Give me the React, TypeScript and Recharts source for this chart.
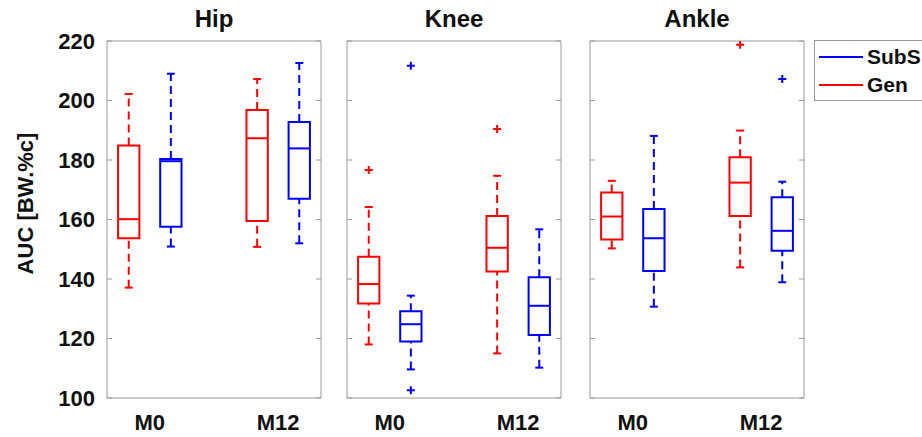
import React from "react";
import {
  ComposedChart,
  XAxis,
  YAxis,
  ReferenceArea,
  ReferenceLine,
  Scatter,
  Legend,
} from "recharts";

// categories / labels
const PANELS = ["Hip", "Knee", "Ankle"];
const TIMES = ["M0", "M12"];
const GROUPS = ["SubS", "Gen"];
const Y_TICKS = [100, 120, 140, 160, 180, 200, 220];

// [lower whisker, q1, median, q3, upper whisker] for M0, M12
const HIP_GEN = [
  [137.1, 153.7, 160.1, 184.9, 202.2],
  [150.8, 159.5, 187.3, 196.8, 207.2],
];
const HIP_SUBS = [
  [150.9, 157.6, 179.6, 180.3, 209.0],
  [152.0, 167.0, 183.9, 192.8, 212.6],
];
const KNEE_GEN = [
  [118.0, 131.8, 138.3, 147.5, 164.2],
  [115.0, 142.5, 150.5, 161.2, 174.7],
];
const KNEE_SUBS = [
  [109.6, 119.0, 124.8, 129.2, 134.4],
  [110.2, 121.2, 131.0, 140.6, 156.7],
];
const ANKLE_GEN = [
  [150.3, 153.3, 161.0, 169.1, 173.0],
  [143.9, 161.2, 172.4, 180.9, 189.9],
];
const ANKLE_SUBS = [
  [130.7, 142.7, 153.7, 163.5, 188.1],
  [138.9, 149.5, 156.2, 167.5, 172.7],
];

// outliers for M0, M12
const HIP_GEN_OUT = [[], []];
const HIP_SUBS_OUT = [[], []];
const KNEE_GEN_OUT = [[176.6], [190.4]];
const KNEE_SUBS_OUT = [[211.7, 102.6], []];
const ANKLE_GEN_OUT = [[], [218.7]];
const ANKLE_SUBS_OUT = [[], [207.2]];

const STATS: Record<string, Record<string, number[][]>> = {
  Hip: { Gen: HIP_GEN, SubS: HIP_SUBS },
  Knee: { Gen: KNEE_GEN, SubS: KNEE_SUBS },
  Ankle: { Gen: ANKLE_GEN, SubS: ANKLE_SUBS },
};
const OUTLIERS: Record<string, Record<string, number[][]>> = {
  Hip: { Gen: HIP_GEN_OUT, SubS: HIP_SUBS_OUT },
  Knee: { Gen: KNEE_GEN_OUT, SubS: KNEE_SUBS_OUT },
  Ankle: { Gen: ANKLE_GEN_OUT, SubS: ANKLE_SUBS_OUT },
};

// styling / layout
const COLORS: Record<string, string> = { SubS: "#0000ff", Gen: "#ff0000" };
const SHIFT: Record<string, number> = { Gen: -0.164, SubS: 0.164 };
const BOX_HALF = 0.083;
const CAP_HALF = 0.031;
const FRAME = "#9a9a9a";
const FONT = '"Liberation Sans", Arial, sans-serif';
const PLOT_W = 214;
const PANEL_LEFT = [0, 330, 570];
const AXIS_W = [107, 17, 20];
const RIGHT_M = [3, 3, 118];
const X_DOMAIN = [2 / 3, 7 / 3];

const ax = { xAxisId: "x", yAxisId: "y" };
const noLabel = () => <g />;

function boxElements(panel: string, group: string) {
  const color = COLORS[group];
  return STATS[panel][group].flatMap(([lo, q1, med, q3, hi], i) => {
    const x = i + 1 + SHIFT[group];
    const k = `${panel}-${group}-${i}`;
    return [
      <ReferenceLine key={k + "wl"} {...ax} segment={[{ x, y: lo }, { x, y: q1 }]}
        stroke={color} strokeWidth={2} strokeDasharray="8 5" />,
      <ReferenceLine key={k + "wh"} {...ax} segment={[{ x, y: q3 }, { x, y: hi }]}
        stroke={color} strokeWidth={2} strokeDasharray="8 5" />,
      <ReferenceLine key={k + "cl"} {...ax}
        segment={[{ x: x - CAP_HALF, y: lo }, { x: x + CAP_HALF, y: lo }]}
        stroke={color} strokeWidth={2} />,
      <ReferenceLine key={k + "ch"} {...ax}
        segment={[{ x: x - CAP_HALF, y: hi }, { x: x + CAP_HALF, y: hi }]}
        stroke={color} strokeWidth={2} />,
      <ReferenceArea key={k + "box"} {...ax} x1={x - BOX_HALF} x2={x + BOX_HALF}
        y1={q1} y2={q3} fill="#fff" fillOpacity={1} stroke={color} strokeWidth={2} />,
      <ReferenceLine key={k + "md"} {...ax}
        segment={[{ x: x - BOX_HALF, y: med }, { x: x + BOX_HALF, y: med }]}
        stroke={color} strokeWidth={2} />,
    ];
  });
}

function outlierPoints(panel: string, group: string) {
  return OUTLIERS[panel][group].flatMap((vals, i) =>
    vals.map((v) => ({ x: i + 1 + SHIFT[group], y: v }))
  );
}

const plusShape = (color: string) => (props: any) => {
  const { cx, cy } = props;
  return (
    <path
      d={`M${cx - 4},${cy}H${cx + 4}M${cx},${cy - 4}V${cy + 4}`}
      stroke={color}
      strokeWidth={2}
      fill="none"
    />
  );
};

const renderLegend = () => (
  <div
    style={{
      border: `1px solid ${FRAME}`,
      background: "#fff",
      width: 112,
      height: 61,
      boxSizing: "border-box",
      paddingTop: 2,
      fontFamily: FONT,
    }}
  >
    {GROUPS.map((g) => (
      <div key={g} style={{ display: "flex", alignItems: "center", height: 28, paddingLeft: 4 }}>
        <span
          style={{
            display: "inline-block",
            width: 44,
            borderTop: `2px solid ${COLORS[g]}`,
            marginRight: 4,
          }}
        />
        <span style={{ fontSize: 21, fontWeight: "bold", color: "#111" }}>{g}</span>
      </div>
    ))}
  </div>
);

function Panel({ idx }: { idx: number }) {
  const panel = PANELS[idx];
  const width = AXIS_W[idx] + PLOT_W + RIGHT_M[idx];
  const first = idx === 0;
  return (
    <div style={{ position: "absolute", left: PANEL_LEFT[idx], top: 0 }}>
      <ComposedChart
        width={width}
        height={437}
        margin={{ top: 41, right: RIGHT_M[idx], bottom: 0, left: first ? 0 : AXIS_W[idx] }}
      >
        {/* bottom: labels outside, tick marks inside */}
        <XAxis
          xAxisId="x"
          dataKey="x"
          type="number"
          domain={X_DOMAIN}
          allowDataOverflow
          ticks={[1, 2]}
          tickFormatter={(v: number) => TIMES[v - 1]}
          height={39}
          axisLine={false}
          tickLine={false}
          tickSize={0}
          tickMargin={16}
          tick={{ fill: "#111", fontSize: 22, fontWeight: "bold" }}
        />
        <XAxis
          xAxisId="xm"
          type="number"
          domain={X_DOMAIN}
          allowDataOverflow
          ticks={[1, 2]}
          mirror
          height={1}
          stroke={FRAME}
          tickSize={5}
          tick={noLabel}
        />
        <XAxis
          xAxisId="t"
          orientation="top"
          type="number"
          domain={X_DOMAIN}
          allowDataOverflow
          ticks={[1, 2]}
          mirror
          height={10}
          stroke={FRAME}
          tickSize={5}
          tick={noLabel}
          label={{
            value: panel,
            position: "top",
            offset: 14,
            fill: "#111",
            fontSize: 24,
            fontWeight: "bold",
          }}
        />
        {first && (
          <YAxis
            yAxisId="lab"
            type="number"
            domain={[100, 220]}
            allowDataOverflow
            ticks={Y_TICKS}
            width={AXIS_W[idx]}
            axisLine={false}
            tickLine={false}
            tickSize={0}
            tickMargin={12}
            tick={{ fill: "#111", fontSize: 22, fontWeight: "bold" }}
            label={{
              value: "AUC [BW.%c]",
              position: "center",
              angle: -90,
              dx: -28,
              dy: -16,
              fill: "#111",
              fontSize: 22,
              fontWeight: "bold",
            }}
          />
        )}
        <YAxis
          yAxisId="y"
          dataKey="y"
          type="number"
          domain={[100, 220]}
          allowDataOverflow
          ticks={Y_TICKS}
          mirror
          stroke={FRAME}
          tickSize={5}
          tick={noLabel}
        />
        <YAxis
          yAxisId="r"
          orientation="right"
          type="number"
          domain={[100, 220]}
          allowDataOverflow
          ticks={Y_TICKS}
          mirror
          stroke={FRAME}
          tickSize={5}
          tick={noLabel}
        />
        {GROUPS.slice()
          .reverse()
          .flatMap((g) => boxElements(panel, g))}
        {GROUPS.map((g) => (
          <Scatter
            key={g}
            {...ax}
            name={g}
            data={outlierPoints(panel, g)}
            dataKey="y"
            shape={plusShape(COLORS[g])}
            legendType="none"
            isAnimationActive={false}
          />
        ))}
        {idx === 2 && (
          <Legend
            layout="vertical"
            align="center"
            verticalAlign="middle"
            content={renderLegend}
            wrapperStyle={{ left: 244, top: 40, width: 112 }}
          />
        )}
      </ComposedChart>
    </div>
  );
}

export default function App() {
  return (
    <div
      style={{
        position: "absolute",
        left: 0,
        top: 0,
        width: 922,
        height: 437,
        overflow: "hidden",
        background: "#fff",
        fontFamily: FONT,
      }}
    >
      {PANELS.map((p, i) => (
        <Panel key={p} idx={i} />
      ))}
    </div>
  );
}
